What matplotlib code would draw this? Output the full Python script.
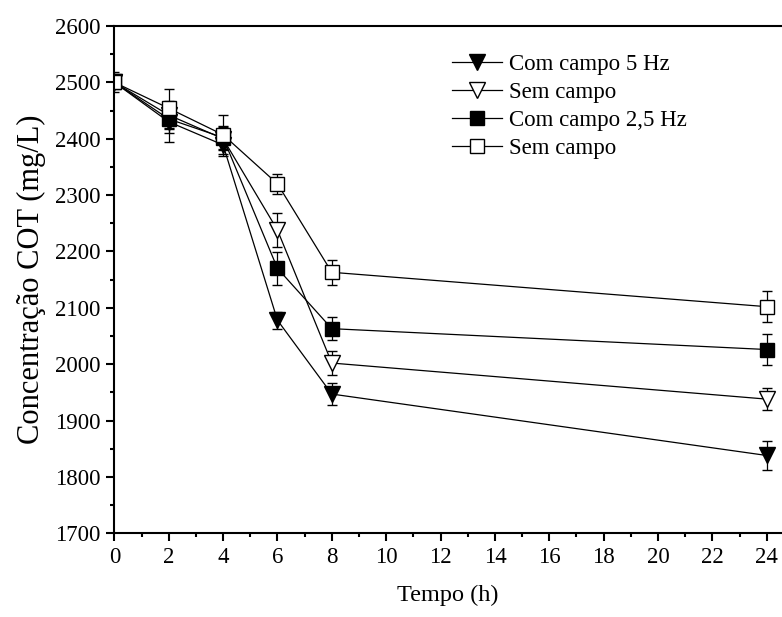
import matplotlib
matplotlib.use("Agg")
import matplotlib.pyplot as plt
from matplotlib.ticker import MultipleLocator

plt.rcParams['font.family'] = ['Liberation Serif', 'DejaVu Serif']

tempo = [0, 2, 4, 6, 8, 24]

# COT (mg/L) para cada ensaio
cot_5hz = [2500, 2430, 2389, 2078, 1947, 1838]
err_5hz = [10, 35, 20, 15, 20, 25]
cot_sem1 = [2500, 2442, 2400, 2238, 2002, 1938]
err_sem1 = [10, 25, 20, 30, 22, 20]
cot_25hz = [2500, 2435, 2402, 2170, 2063, 2026]
err_25hz = [10, 25, 20, 29, 20, 27]
cot_sem2 = [2500, 2454, 2407, 2320, 2163, 2102]
err_sem2 = [18, 35, 35, 18, 22, 27]

labels = ['Com campo 5 Hz', 'Sem campo', 'Com campo 2,5 Hz', 'Sem campo']

fig = plt.figure(figsize=(7.82, 6.17), dpi=100)
ax = fig.add_axes([0.1462, 0.1357, 0.8538, 0.8222])

series = [
    (cot_5hz, err_5hz, 'v', 'black', 12),
    (cot_sem1, err_sem1, 'v', 'white', 12),
    (cot_25hz, err_25hz, 's', 'black', 10),
    (cot_sem2, err_sem2, 's', 'white', 10),
]

handles = []
for y, e, mk, fc, ms in series:
    c = ax.errorbar(tempo, y, yerr=e, color='black', lw=0.9, elinewidth=0.9,
                    capsize=3.5, capthick=0.9, marker=mk, ms=ms, mfc=fc,
                    mec='black', mew=1.0)
    handles.append(c[0])  # so a legenda mostra só linha + marcador

ax.set_xlim(0, 24.56)
ax.set_ylim(1700, 2600)
ax.xaxis.set_major_locator(MultipleLocator(2))
ax.xaxis.set_minor_locator(MultipleLocator(1))
ax.yaxis.set_major_locator(MultipleLocator(100))
ax.yaxis.set_minor_locator(MultipleLocator(50))

ax.spines['right'].set_visible(False)
for s in ['left', 'bottom', 'top']:
    ax.spines[s].set_linewidth(1.5)
ax.tick_params(which='major', direction='out', length=6, width=1.5,
               labelsize=16.5, pad=4)
ax.tick_params(which='minor', direction='out', length=3, width=1.5)

ax.set_xlabel('Tempo (h)', fontsize=17.5, labelpad=12)
ax.set_ylabel('Concentração COT (mg/L)', fontsize=22, labelpad=6)

ax.legend(handles, labels, loc='upper left', bbox_to_anchor=(0.5058, 0.945),
          frameon=False, fontsize=16.5, handlelength=2.2,
          handletextpad=0.3, labelspacing=0.3, borderpad=0,
          borderaxespad=0)

fig.savefig('out.png', dpi=100)
